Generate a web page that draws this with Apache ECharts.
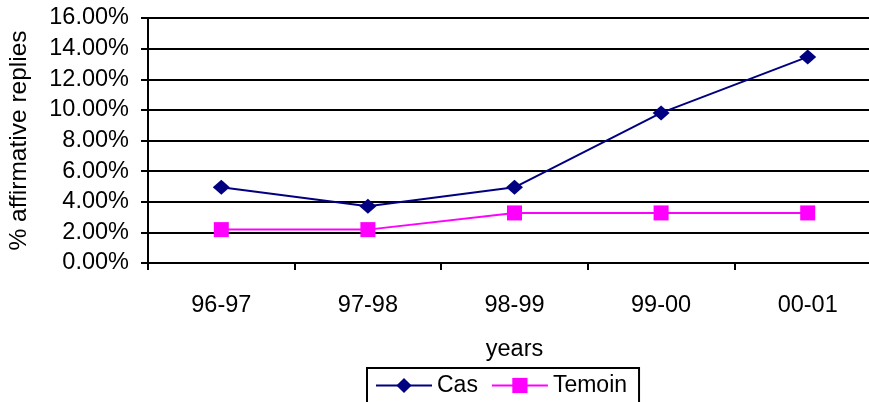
<!DOCTYPE html>
<html>
<head>
<meta charset="utf-8">
<script src="https://cdn.jsdelivr.net/npm/echarts@6/dist/echarts.min.js"></script>
<style>
html,body{margin:0;padding:0;background:#fff;overflow:hidden;width:869px;height:402px;}
#chart{width:882px;height:402px;}
</style>
</head>
<body>
<div id="chart"></div>
<script>
var categories = ['96-97', '97-98', '98-99', '99-00', '00-01'];
var casValues = [4.94, 3.70, 4.94, 9.80, 13.46];
var temoinValues = [2.18, 2.18, 3.27, 3.27, 3.27];
var yMin = 0, yMax = 16, yStep = 2;

var FONT = '"Liberation Sans", Arial, sans-serif';
var FS = 23.5;
var chart = echarts.init(document.getElementById('chart'));
chart.setOption({
  animation: false,
  backgroundColor: '#ffffff',
  textStyle: { fontFamily: FONT, color: '#000' },
  grid: { left: 148, top: 18, height: 245, right: 1, containLabel: false, outerBoundsMode: 'none' },
  legend: {
    data: ['Cas', 'Temoin'],
    left: 367, top: 368,
    orient: 'horizontal',
    padding: [6, 12, 10, 8],
    itemWidth: 56, itemHeight: 19, itemGap: 13,
    borderColor: '#000', borderWidth: 2,
    textStyle: { fontFamily: FONT, fontSize: 23, color: '#000' }
  },
  xAxis: {
    type: 'category',
    data: categories,
    boundaryGap: true,
    name: 'years',
    nameLocation: 'middle',
    nameGap: 75,
    nameTextStyle: { fontFamily: FONT, fontSize: FS, color: '#000' },
    axisLine: { lineStyle: { color: '#000', width: 2 } },
    axisTick: { show: true, length: 7, lineStyle: { color: '#000', width: 2 } },
    axisLabel: { fontFamily: FONT, fontSize: FS, color: '#000', margin: 31 },
    splitLine: { show: false }
  },
  yAxis: {
    type: 'value',
    min: yMin, max: yMax, interval: yStep,
    name: '% affirmative replies',
    nameLocation: 'middle',
    nameGap: 116,
    nameRotate: 90,
    nameTextStyle: { fontFamily: FONT, fontSize: 24.5, color: '#000' },
    axisLine: { show: true, lineStyle: { color: '#000', width: 2 } },
    axisTick: { show: true, length: 7, lineStyle: { color: '#000', width: 2 } },
    axisLabel: {
      fontFamily: FONT, fontSize: FS, color: '#000', margin: 19,
      formatter: function (v) { return v.toFixed(2) + '%'; }
    },
    splitLine: { show: true, lineStyle: { color: '#000', width: 2 } }
  },
  series: [
    {
      name: 'Cas', type: 'line', data: casValues,
      symbol: 'diamond', symbolSize: [17, 15],
      itemStyle: { color: '#000080' },
      lineStyle: { color: '#000080', width: 2 },
      z: 3
    },
    {
      name: 'Temoin', type: 'line', data: temoinValues,
      symbol: 'rect', symbolSize: 15,
      itemStyle: { color: '#ff00ff' },
      lineStyle: { color: '#ff00ff', width: 2 },
      z: 2
    }
  ]
});
</script>
</body>
</html>
